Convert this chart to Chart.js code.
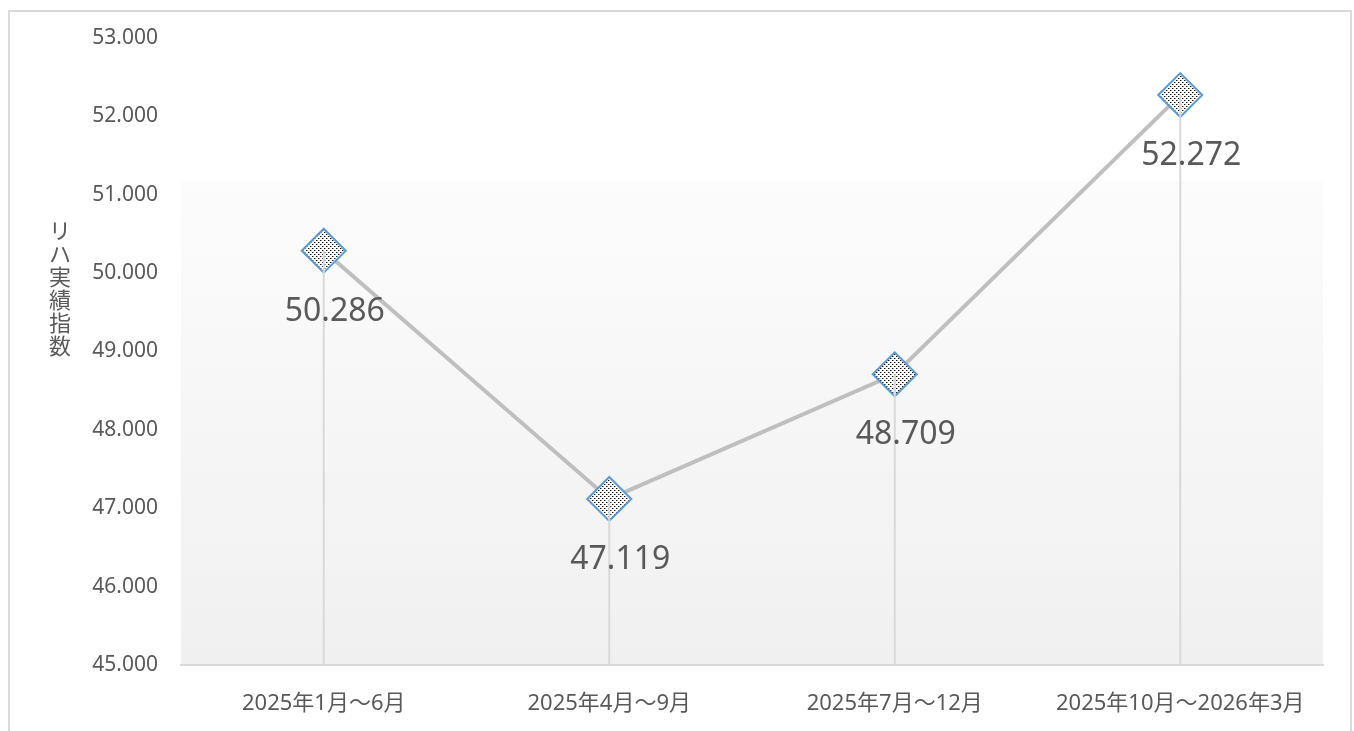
<!DOCTYPE html>
<html>
<head>
<meta charset="utf-8">
<script src="https://cdn.jsdelivr.net/npm/chart.js@4"></script>
<style>
  html, body { margin: 0; padding: 0; background: #fff; }
  #wrap { width: 1354px; height: 731px; }
</style>
</head>
<body>
<div id="wrap"><canvas id="myChart"></canvas></div>
<script>
var categories = ['2025年1月～6月', '2025年4月～9月', '2025年7月～12月', '2025年10月～2026年3月'];
var rehaValues = [50.286, 47.119, 48.709, 52.272];
var yTitle = 'リハ実績指数';
var yMin = 45, yMax = 53, yStep = 1;

var FONT = "'Noto Sans', 'Noto Sans CJK JP', sans-serif";
var TEXT = '#595959';

// dotted fill for the diamond markers
var pc = document.createElement('canvas');
pc.width = 4; pc.height = 4;
var pctx = pc.getContext('2d');
pctx.fillStyle = '#ffffff';
pctx.fillRect(0, 0, 4, 4);
pctx.fillStyle = '#111111';
pctx.fillRect(0, 0, 1, 1);
pctx.fillRect(2, 2, 1, 1);
pctx.fillStyle = '#9a9a9a';
pctx.fillRect(1, 0, 1, 1);
pctx.fillRect(3, 2, 1, 1);
var dotPattern = pctx.createPattern(pc, 'repeat');

var decor = {
  id: 'decor',
  beforeDraw: function(chart) {
    var c = chart.ctx, a = chart.chartArea;
    c.save();
    // outer frame
    c.strokeStyle = '#d9d9d9';
    c.lineWidth = 2;
    c.strokeRect(9, 11, chart.width - 12, chart.height + 20);
    // plot area gradient
    var top = a.top + 143;
    var g = c.createLinearGradient(0, top, 0, a.bottom);
    g.addColorStop(0, '#fcfcfc');
    g.addColorStop(1, '#f0f0f0');
    c.fillStyle = g;
    c.fillRect(a.left, top, a.right - a.left, a.bottom - top);
    c.restore();
  },
  afterDatasetsDraw: function(chart) {
    var c = chart.ctx, a = chart.chartArea;
    var pts = chart.getDatasetMeta(0).data;
    c.save();
    // drop lines
    c.strokeStyle = '#d9d9d9';
    c.lineWidth = 2;
    pts.forEach(function(p) {
      c.beginPath();
      c.moveTo(p.x, p.y);
      c.lineTo(p.x, a.bottom);
      c.stroke();
    });
    // data labels
    c.fillStyle = TEXT;
    c.font = '32px ' + FONT;
    c.textAlign = 'center';
    c.textBaseline = 'middle';
    pts.forEach(function(p, i) {
      c.fillText(rehaValues[i].toFixed(3), p.x + 11, p.y + 61);
    });
    // vertical y-axis title
    c.font = '22px ' + FONT;
    var chars = Array.from(yTitle);
    chars.forEach(function(ch, i) {
      c.fillText(ch, 60, 233 + i * 23);
    });
    c.restore();
  }
};

new Chart(document.getElementById('myChart'), {
  type: 'line',
  data: {
    labels: categories,
    datasets: [{
      label: yTitle,
      data: rehaValues,
      borderColor: '#bfbfbf',
      borderWidth: 4,
      tension: 0,
      pointStyle: 'rectRot',
      pointRadius: 22,
      pointHoverRadius: 22,
      pointBorderWidth: 2,
      pointBorderColor: '#5b9bd5',
      pointBackgroundColor: dotPattern
    }]
  },
  options: {
    responsive: true,
    maintainAspectRatio: false,
    animation: false,
    events: [],
    layout: { padding: { top: 38, right: 31, bottom: 0, left: 0 } },
    plugins: {
      legend: { display: false },
      tooltip: { enabled: false }
    },
    scales: {
      x: {
        offset: true,
        grid: { display: false },
        border: { display: true, color: '#d9d9d9', width: 2 },
        ticks: { color: TEXT, font: { family: FONT, size: 22 }, padding: 18, maxRotation: 0 },
        afterFit: function(s) { s.height = 66; }
      },
      y: {
        min: yMin,
        max: yMax,
        grid: { display: false, drawTicks: false },
        border: { display: false },
        ticks: {
          stepSize: yStep,
          color: TEXT,
          font: { family: FONT, size: 21 },
          padding: 23,
          callback: function(v) { return v.toFixed(3); }
        },
        afterFit: function(s) { s.width = 181; }
      }
    }
  },
  plugins: [decor]
});
</script>
</body>
</html>
